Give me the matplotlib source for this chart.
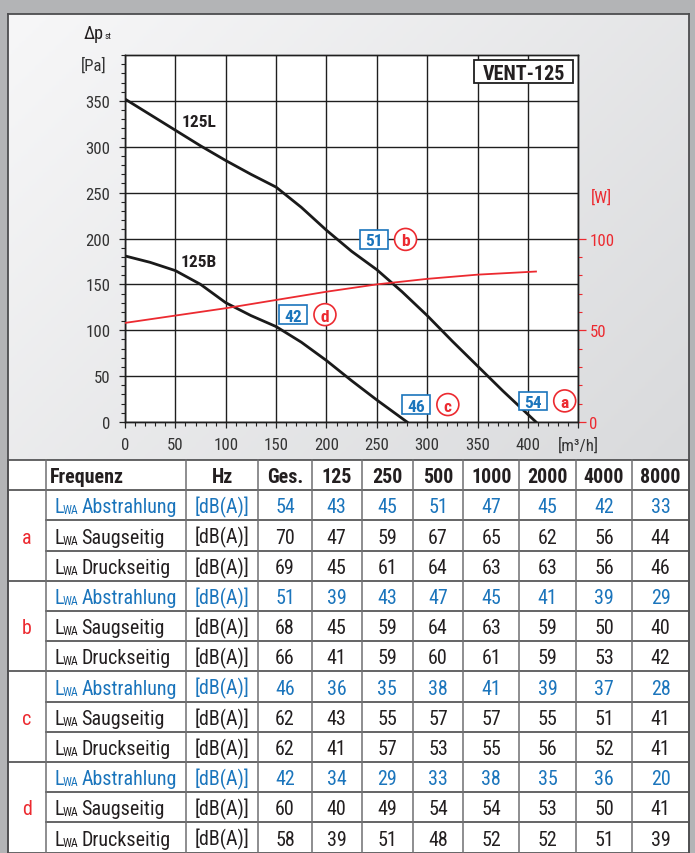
import numpy as np
import matplotlib
matplotlib.use("Agg")
import matplotlib.pyplot as plt
from matplotlib import font_manager
from matplotlib.colors import LinearSegmentedColormap
from matplotlib.patches import Rectangle, Ellipse

# fan curves: static pressure [Pa] over air flow [m3/h]
flow_125l = [0, 25, 50, 75, 100, 125, 150, 175, 200, 225, 250, 275, 300, 325, 350, 375, 408]
dp_125l = [352, 335, 318, 301, 285, 270, 256, 234, 209, 186, 166, 142, 116, 88, 61, 34, 0]

flow_125b = [0, 25, 50, 75, 100, 125, 150, 175, 200, 225, 250, 280]
dp_125b = [181, 174, 165, 150, 130, 116, 104, 87, 67, 45, 24, 0]

# power consumption [W]
flow_power = [0, 50, 100, 150, 200, 250, 300, 350, 408]
power_w = [54, 58, 62, 66.5, 71, 75, 78, 80.3, 82]

# sound data table
freq_cols = ["Ges.", "125", "250", "500", "1000", "2000", "4000", "8000"]
points = ["a", "b", "c", "d"]
row_names = ["Abstrahlung", "Saugseitig", "Druckseitig"]
lwa_a = [[54, 43, 45, 51, 47, 45, 42, 33],
         [70, 47, 59, 67, 65, 62, 56, 44],
         [69, 45, 61, 64, 63, 63, 56, 46]]
lwa_b = [[51, 39, 43, 47, 45, 41, 39, 29],
         [68, 45, 59, 64, 63, 59, 50, 40],
         [66, 41, 59, 60, 61, 59, 53, 42]]
lwa_c = [[46, 36, 35, 38, 41, 39, 37, 28],
         [62, 43, 55, 57, 57, 55, 51, 41],
         [62, 41, 57, 53, 55, 56, 52, 41]]
lwa_d = [[42, 34, 29, 33, 38, 35, 36, 20],
         [60, 40, 49, 54, 54, 53, 50, 41],
         [58, 39, 51, 48, 52, 52, 51, 39]]

# operating point markers on the chart (flow, pressure)
point_pos = {"a": (405, 23), "b": (247, 199), "c": (289, 19), "d": (167, 117)}

BLUE = "#1b75bc"
RED = "#ec2a30"
INK = "#231f20"

installed = {f.name for f in font_manager.fontManager.ttflist}
narrow = ["Liberation Sans Narrow", "Roboto Condensed", "Fira Sans Condensed",
          "IBM Plex Sans Condensed", "PT Sans Narrow", "Encode Sans Semi Condensed",
          "Archivo Narrow", "Liberation Sans"]
FONT = next(n for n in narrow if n in installed)
plt.rcParams["font.family"] = [FONT, "DejaVu Sans"]

W, H = 695, 854
fig = plt.figure(figsize=(W / 100, H / 100), dpi=100)
fig.patch.set_facecolor("#b3b4b6")
renderer = fig.canvas.get_renderer()
px_per_pt = 100 / 72


def text_width(txt, size, weight="normal"):
    t = fig.text(0, 0, txt, fontsize=size, fontweight=weight)
    w = t.get_window_extent(renderer).width
    t.remove()
    return w


# table font sized so the row labels fill their column
tsize = min(15.0, 14.5 * 95 / text_width("Abstrahlung", 14.5))
tick_size = min(13.0, 12.5 * 25 / text_width("350", 12.5))
cap_half = 0.36 * tsize * px_per_pt

# background layer in pixel coordinates
bg = fig.add_axes([0, 0, 1, 1])
bg.axis("off")
gx, gy = np.meshgrid(np.linspace(0, 1, 200), np.linspace(0, 1, 200))
panel_cmap = LinearSegmentedColormap.from_list("panel", ["#f7f7f8", "#d9dadc"])
bg.imshow(0.6 * gx + 0.4 * gy, extent=(8, 689, 461, 15), cmap=panel_cmap,
          aspect="auto", zorder=0)
bg.set_xlim(0, W)
bg.set_ylim(H, 0)
border = dict(color="#4d4d4f", lw=1.3, zorder=3)
bg.plot([8, 689], [15, 15], **border)
bg.plot([8, 8], [15, H], **border)
bg.plot([689, 689], [15, H], **border)

# table
t_top, row_h = 461, 30.2
col_x = [8, 46, 186, 258.3, 311.7, 361.7, 412.7, 463.3, 519.3, 575.7, 632.3, 689]
bg.add_patch(Rectangle((8, t_top), 681, H - t_top, fc="white", ec="none", zorder=1))
n_rows = 13
for k in range(n_rows + 1):
    y = t_top + k * row_h
    x0 = 8 if k in (0, 1, 4, 7, 10, 13) else 46
    bg.plot([x0, 689], [y, y], color="#3a3a3c", lw=1.1, zorder=2)
for x in col_x:
    bg.plot([x, x], [t_top, t_top + n_rows * row_h], color="#6f6f71", lw=1.1, zorder=2)

hy = t_top + row_h / 2 + cap_half
bg.text(50, hy, "Frequenz", fontsize=tsize, fontweight="bold", color=INK,
        ha="left", va="baseline")
bg.text((col_x[2] + col_x[3]) / 2, hy, "Hz", fontsize=tsize, fontweight="bold",
        color=INK, ha="center", va="baseline")
for j, name in enumerate(freq_cols):
    cx = (col_x[3 + j] + col_x[4 + j]) / 2
    bg.text(cx, hy, name, fontsize=tsize, fontweight="bold", color=INK,
            ha="center", va="baseline")

sub_size = 8.5
x_sub = 54 + text_width("L", tsize) - 0.5
x_name = x_sub + text_width("WA", sub_size) + 2.5
for g, (pt, block) in enumerate(zip(points, [lwa_a, lwa_b, lwa_c, lwa_d])):
    mid = t_top + row_h * (1 + 3 * g + 1.5)
    bg.text(27, mid + cap_half, pt, fontsize=tsize, color=RED, ha="center", va="baseline")
    for r, (name, vals) in enumerate(zip(row_names, block)):
        cy = t_top + row_h * (1 + 3 * g + r + 0.5)
        base = cy + cap_half
        c = BLUE if r == 0 else INK
        bg.text(54, base, "L", fontsize=tsize, color=c, ha="left", va="baseline")
        bg.text(x_sub, base + 1, "WA", fontsize=sub_size, color=c, ha="left", va="baseline")
        bg.text(x_name, base, name, fontsize=tsize, color=c, ha="left", va="baseline")
        bg.text((col_x[2] + col_x[3]) / 2, base, "[dB(A)]", fontsize=tsize, color=c,
                ha="center", va="baseline")
        for j, v in enumerate(vals):
            cx = (col_x[3 + j] + col_x[4 + j]) / 2
            bg.text(cx, base, str(v), fontsize=tsize, color=c, ha="center", va="baseline")

# characteristic chart
ax = fig.add_axes([125 / W, 1 - 423 / H, (578.3 - 125) / W, (423 - 56) / H])
ax.set_facecolor("white")
ax.set_xlim(0, 450)
ax.set_ylim(0, 400)
ax.set_xticks(np.arange(0, 451, 50))
ax.set_xticklabels([str(v) for v in range(0, 401, 50)] + ["[m³/h]"])
ax.set_xticks(np.arange(0, 451, 10), minor=True)
ax.set_yticks(np.arange(0, 351, 50))
ax.set_yticks(np.arange(0, 401, 10), minor=True)
ax.grid(True, which="major", color="#1f1f1f", lw=1.0)
ax.set_axisbelow(True)
ax.tick_params(which="major", direction="out", length=4.5, width=0.9, color="#222",
               labelsize=tick_size, labelcolor="#333", pad=6)
ax.tick_params(which="minor", direction="out", length=3, width=0.8, color="#222")
for s in ax.spines.values():
    s.set_color("#1f1f1f")
    s.set_linewidth(1.0)

ax.plot(flow_125l, dp_125l, color="#1a1a1a", lw=2.0, solid_joinstyle="round", zorder=4)
ax.plot(flow_125b, dp_125b, color="#1a1a1a", lw=2.0, solid_joinstyle="round", zorder=4)
ax.text(56, 327, "125L", fontsize=12.5, fontweight="bold", color=INK, va="center", zorder=5)
ax.text(55, 175, "125B", fontsize=12.5, fontweight="bold", color=INK, va="center", zorder=5)

ax2 = ax.twinx()
ax2.set_ylim(0, 200)
ax2.set_yticks([0, 50, 100])
ax2.set_yticks(np.arange(0, 101, 10), minor=True)
ax2.tick_params(which="major", direction="out", length=6, width=0.9, colors=RED,
                labelsize=tick_size, pad=2)
ax2.tick_params(which="minor", direction="out", length=3.2, width=0.8, colors=RED)
for s in ax2.spines.values():
    s.set_color("#1f1f1f")
    s.set_linewidth(1.0)
ax2.plot(flow_power, power_w, color=RED, lw=1.3, zorder=4)

# operating points: sound power box + point letter
ges = {"a": lwa_a[0][0], "b": lwa_b[0][0], "c": lwa_c[0][0], "d": lwa_d[0][0]}
for pt, (px, py) in point_pos.items():
    ax2.add_patch(Rectangle((px - 13.7, (py - 10.1) / 2), 27.5, 20.3 / 2, fc="white",
                            ec=BLUE, lw=1.2, zorder=6))
    ax2.text(px, py / 2, str(ges[pt]), fontsize=12.5, fontweight="bold", color=BLUE,
             ha="center", va="center_baseline", zorder=7)
    ex = px + 31.5
    ax2.add_patch(Ellipse((ex, py / 2), 21.8, 23.9 / 2, fc="white", ec=RED, lw=1.2, zorder=6))
    ax2.text(ex, py / 2, pt, fontsize=12.5, fontweight="bold", color=RED,
             ha="center", va="center_baseline", zorder=7)

ax2.add_patch(Rectangle((346.7, 369.2 / 2), 98.3, 25.4 / 2, fc="white", ec="#1f1f1f",
                        lw=1.3, zorder=6))
ax2.text(395.8, 382 / 2, "VENT-125", fontsize=14.5, fontweight="bold", color=INK,
         ha="center", va="center_baseline", zorder=7)

# axis captions
dp_txt = bg.text(84, 39, "Δp", fontsize=tick_size + 1, color=INK, ha="left", va="baseline")
bg.text(84 + text_width("Δp", tick_size + 1) + 1, 39, "st", fontsize=6.5, color=INK,
        ha="left", va="baseline")
bg.text(106, 64, "[Pa]", fontsize=tick_size, color="#333", ha="right", va="center_baseline")
bg.text(590.7, 196, "[W]", fontsize=tick_size, color=RED, ha="left", va="center_baseline")

fig.savefig("out.png", dpi=100, facecolor=fig.get_facecolor())
